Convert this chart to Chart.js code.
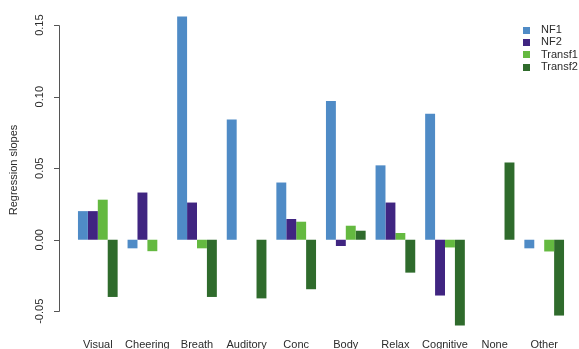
<!DOCTYPE html>
<html>
<head>
<meta charset="utf-8">
<script src="https://cdn.jsdelivr.net/npm/chart.js@4"></script>
<style>
  html, body { margin: 0; padding: 0; background: #fff; }
  #wrap { width: 579px; height: 349px; }
</style>
</head>
<body>
<div id="wrap"><canvas id="slopesChart" width="579" height="349"></canvas></div>
<script>
const categories = ['Visual', 'Cheering', 'Breath', 'Auditory', 'Conc', 'Body', 'Relax', 'Cognitive', 'None', 'Other'];
const nf1     = [0.020, -0.006, 0.156, 0.084, 0.040, 0.097, 0.052, 0.088, 0, -0.006];
const nf2     = [0.020, 0.033, 0.026, 0, 0.0145, -0.0044, 0.026, -0.039, 0, 0];
const transf1 = [0.028, -0.008, -0.006, 0, 0.0126, 0.0098, 0.0047, -0.0054, 0, -0.0082];
const transf2 = [-0.040, 0, -0.040, -0.041, -0.0346, 0.0063, -0.023, -0.060, 0.054, -0.053];
const yTicks = [-0.05, 0, 0.05, 0.10, 0.15];
const yTickLabels = ['-0.05', '0.00', '0.05', '0.10', '0.15'];

const FONT = '"Liberation Sans", Arial, sans-serif';
const TEXT = '#2b2b2b';

// R-style axes: y line only between first and last tick, rotated labels
const rAxis = {
    id: 'rAxis',
    afterDraw(chart) {
        const { ctx, scales: { x, y } } = chart;
        const x0 = 59;
        ctx.save();
        ctx.strokeStyle = '#555';
        ctx.lineWidth = 1;
        ctx.beginPath();
        ctx.moveTo(x0 + 0.5, Math.round(y.getPixelForValue(yTicks[0])) + 0.5);
        ctx.lineTo(x0 + 0.5, Math.round(y.getPixelForValue(yTicks[yTicks.length - 1])) + 0.5);
        yTicks.forEach(v => {
            const py = Math.round(y.getPixelForValue(v)) + 0.5;
            ctx.moveTo(x0 + 0.5, py);
            ctx.lineTo(x0 - 5, py);
        });
        ctx.stroke();

        ctx.fillStyle = TEXT;
        ctx.font = '11px ' + FONT;
        ctx.textAlign = 'center';
        ctx.textBaseline = 'middle';
        yTicks.forEach((v, i) => {
            ctx.save();
            ctx.translate(40, y.getPixelForValue(v));
            ctx.rotate(-Math.PI / 2);
            ctx.fillText(yTickLabels[i], 0, 0);
            ctx.restore();
        });

        categories.forEach((c, i) => {
            ctx.fillText(c, x.getPixelForValue(i), 345);
        });

        ctx.save();
        ctx.translate(14, 170);
        ctx.rotate(-Math.PI / 2);
        ctx.fillText('Regression slopes', 0, 0);
        ctx.restore();

        // legend in the top-right corner of the plot
        ctx.textAlign = 'left';
        chart.data.datasets.forEach((ds, i) => {
            const ly = 30 + i * 12.4;
            ctx.fillStyle = ds.backgroundColor;
            ctx.fillRect(523, Math.round(ly - 3.5), 7, 7);
            ctx.fillStyle = TEXT;
            ctx.fillText(ds.label, 541, ly);
        });
        ctx.restore();
    }
};

const ctx = document.getElementById('slopesChart').getContext('2d');
new Chart(ctx, {
    type: 'bar',
    data: {
        labels: categories,
        datasets: [
            { label: 'NF1', data: nf1, backgroundColor: '#4f8bc6' },
            { label: 'NF2', data: nf2, backgroundColor: '#402581' },
            { label: 'Transf1', data: transf1, backgroundColor: '#64b940' },
            { label: 'Transf2', data: transf2, backgroundColor: '#2f6b2c' }
        ]
    },
    options: {
        responsive: false,
        animation: false,
        categoryPercentage: 0.8,
        barPercentage: 1.0,
        layout: { padding: { left: 73, right: 10, top: 8, bottom: 19 } },
        plugins: {
            legend: { display: false },
            tooltip: { enabled: false }
        },
        scales: {
            x: { display: false },
            y: {
                display: false,
                min: -0.0631,
                max: 0.162
            }
        }
    },
    plugins: [rAxis]
});
</script>
</body>
</html>
